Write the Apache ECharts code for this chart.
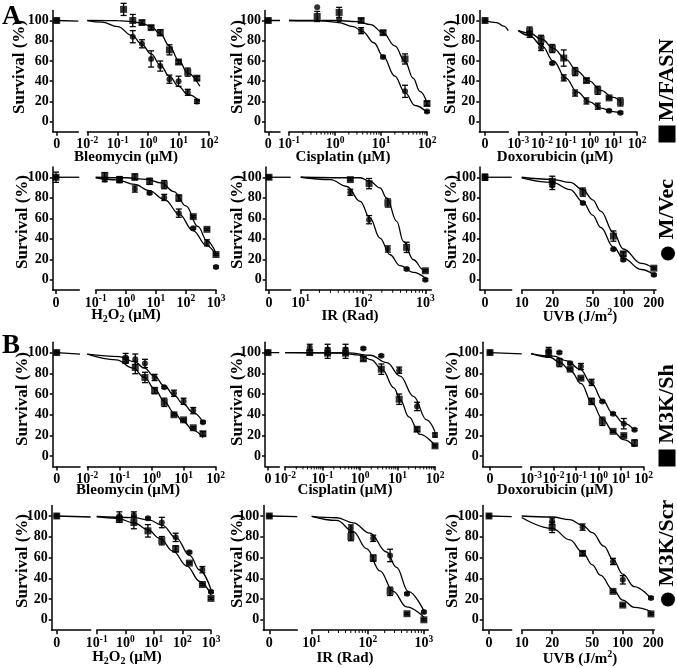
<!DOCTYPE html>
<html><head><meta charset="utf-8">
<script src="https://cdn.jsdelivr.net/npm/echarts@6/dist/echarts.min.js"></script>
<style>html,body{margin:0;padding:0;background:#fff}#c{width:677px;height:668px}</style>
</head><body><div id="c"></div>
<script>
// ================= DATA =================
const yTicks = [0, 20, 40, 60, 80, 100];
const ticksBleo = [0.01, 0.1, 1, 10, 100];
const ticksCisA = [0.1, 1, 10, 100];
const ticksCisB = [0.01, 0.1, 1, 10, 100];
const ticksDox = [0.001, 0.01, 0.1, 1, 10, 100];
const ticksH2O2 = [0.1, 1, 10, 100, 1000];
const ticksIR = [10, 100, 1000];
const ticksUVB = [10, 20, 50, 100, 200];
const zeroSurvival = [100, 100]; // [square, circle] at dose 0

// ---- A: M/FASN (square) vs M/Vec (circle) ----
const bleoDose = [0.156, 0.3125, 0.625, 1.25, 2.5, 5, 10, 20, 40];
const A1_sq = [111, 100, 98, 93, 88, 71, 59, 49, 43];
const A1_sqErr = [6, 6, 2, 2, 3, 5, 2, 4, 2];
const A1_ci = [null, 84, 77, 62, 55, 42, 40, 29, 20];
const A1_ciErr = [0, 6, 4, 8, 5, 4, 5, 3, 2];
const A1_sqFitX = [0.01, 0.1, 0.3, 0.6, 1.25, 2.5, 5, 10, 20, 50];
const A1_sqFitY = [100, 99.8, 99, 97.5, 94, 87, 75, 61, 48, 35];
const A1_ciFitX = [0.01, 0.03, 0.1, 0.3, 0.6, 1.25, 2.5, 5, 10, 20, 50];
const A1_ciFitY = [100, 98.5, 94, 85, 77, 67, 56, 45, 35, 27, 20];
const A1_zeroErr = [0, 0];
const A1_leftX = [0, 1];
const A1_leftY = [100, 99.3];

const A2_dose = [0.41, 1.23, 3.7, 11.1, 33.3, 100];
const A2_sq = [104, 108, 100, 88, 62, 18];
const A2_sqErr = [5, 5, 2, 2, 5, 2];
const A2_ci = [113, 101, 90, 64, 30, 10];
const A2_ciErr = [0, 0, 3, 1, 6, 1];
const A2_sqFitX = [0.1, 1, 3, 6, 11, 20, 33, 50, 70, 100];
const A2_sqFitY = [100, 100, 99, 96, 88, 75, 60, 43, 30, 19];
const A2_ciFitX = [0.1, 0.5, 1.2, 2.5, 4, 7, 11, 20, 33, 55, 100];
const A2_ciFitY = [100, 99.6, 98, 94, 89, 78, 65, 45, 29, 16, 9];
const A2_zeroErr = [0, 0];
const A2_leftX = [0, 1];
const A2_leftY = [100, 100];

const A3_dose = [0.003, 0.0091, 0.027, 0.082, 0.247, 0.74, 2.22, 6.67, 20];
const A3_sq = [89.6, 81.4, 72.3, 62.9, 49.5, 40.7, 31, 23.5, 19.5];
const A3_sqErr = [4, 4, 4, 8, 4, 2, 4, 1, 4];
const A3_ci = [86.3, 73.3, 57.7, 43.3, 28.3, 20.5, 15.3, 10.7, 8.8];
const A3_ciErr = [3, 3, 1, 3, 3, 3, 3, 1, 1];
const A3_sqFitX = [0.001, 0.003, 0.01, 0.03, 0.1, 0.3, 1, 3, 10, 22];
const A3_sqFitY = [90, 87.5, 81.5, 72.5, 61.5, 50, 40, 31, 24, 19];
const A3_ciFitX = [0.001, 0.003, 0.01, 0.03, 0.1, 0.3, 1, 3, 10, 22];
const A3_ciFitY = [90, 85, 75, 60, 43, 29.5, 19.5, 13.5, 10, 8];
const A3_zeroErr = [0, 0];
const A3_leftX = [0, 0.5, 0.8, 1];
const A3_leftY = [100, 98, 94.5, 90];

const h2o2Dose = [0.2, 0.62, 2, 6.2, 19, 58, 175, 500, 1000];
const A4_sq = [101.6, 97.7, 100.3, 96, 92.8, 79.7, 61.6, 49.2, 24.6];
const A4_sqErr = [3, 3, 3, 3, 4, 3, 1, 1, 1];
const A4_ci = [97.7, 97, 88.5, 84.6, 80.3, 65, 50.2, 36, 12.5];
const A4_ciErr = [2, 2, 3, 1, 3, 4, 1, 3, 1];
const A4_sqFitX = [0.1, 1, 5, 15, 40, 100, 250, 500, 1000];
const A4_sqFitY = [100, 99.5, 98, 94.5, 86, 72, 52, 38, 26];
const A4_ciFitX = [0.1, 0.5, 2, 6, 20, 60, 170, 500, 1000];
const A4_ciFitY = [99.5, 97.5, 93, 87, 78, 64, 48, 33, 24];
const A4_zeroErr = [5, 0];
const A4_leftX = [0, 1];
const A4_leftY = [100, 100];

const A5_dose = [62.5, 125, 250, 500, 1000];
const A5_sq = [97.7, 93.8, 74.9, 31.6, 8.8];
const A5_sqErr = [1, 5, 4, 5, 1];
const A5_ci = [85.3, 58.6, 30, 10.4, 0];
const A5_ciErr = [3, 4, 3, 1, 1];
const A5_sqFitX = [10, 90, 129, 187, 240, 347, 444, 642, 929, 1000];
const A5_sqFitY = [100, 99.5, 96, 89.6, 79.8, 57, 37.5, 19.5, 9.8, 8.5];
const A5_ciFitX = [10, 30, 55, 90, 129, 187, 271, 392, 642, 1000];
const A5_ciFitY = [100, 97.7, 91, 76.5, 60.3, 40.7, 24.4, 13.7, 7.2, 1.6];
const A5_zeroErr = [0, 0];
const A5_leftX = [0, 1];
const A5_leftY = [100, 100];

const A6_dose = [20, 40, 80, 100, 200];
const A6_sq = [96, 85.5, 42.6, 25.2, 11.3];
const A6_sqErr = [5, 4, 5, 2, 1];
const A6_ci = [92, 74.8, 29.7, 19.4, 4.8];
const A6_ciErr = [4, 1, 1, 1, 1];
const A6_sqFitX = [10, 20, 30, 40, 50, 60, 80, 100, 150, 200];
const A6_sqFitY = [100, 98, 95, 88, 78, 67, 46, 30, 16, 11];
const A6_ciFitX = [10, 20, 30, 40, 50, 60, 80, 100, 150, 200];
const A6_ciFitY = [99.5, 95, 88, 76, 63, 51, 32, 21, 10, 5];
const A6_zeroErr = [3, 0];
const A6_leftX = [0, 1];
const A6_leftY = [100, 100];

// ---- B: M3K/Sh (square) vs M3K/Scr (circle) ----
const B1_sq = [92.7, 85.6, 76, 63.3, 52, 40, 35.1, 27.5, 21.7];
const B1_sqErr = [3, 6, 5, 3, 4, 1, 1, 1, 2];
const B1_ci = [95.2, 93.6, 89.5, 76, 66.5, 60.7, 53, 44, 32.9];
const B1_ciErr = [4, 5, 4, 3, 1, 3, 3, 3, 1];
const B1_sqFitX = [0.01, 0.08, 0.27, 0.6, 1.25, 2.5, 5, 10, 20, 40];
const B1_sqFitY = [98.4, 93, 85, 76, 65, 53, 42, 33, 25, 18];
const B1_ciFitX = [0.01, 0.1, 0.3, 0.6, 1.25, 2.5, 5, 10, 20, 40];
const B1_ciFitY = [98.4, 96, 91, 85, 77, 68, 59, 50, 42, 33];
const B1_zeroErr = [0, 0];
const B1_leftX = [0, 1];
const B1_leftY = [100, 98.4];

const B2_dose = [0.0457, 0.137, 0.412, 1.23, 3.7, 11.1, 33.3, 100];
const B2_sq = [100, 99.4, 99.4, 94, 84, 55, 26, 10];
const B2_sqErr = [2, 5, 5, 2, 5, 5, 2, 1];
const B2_ci = [105, 103, 103, 104, 97, 83, 48, 20.5];
const B2_ciErr = [3, 5, 5, 1, 1, 3, 4, 2];
const B2_sqFitX = [0.01, 0.3, 1, 2, 4, 8, 12, 20, 40, 100];
const B2_sqFitY = [100, 99.6, 97.5, 93, 83, 66, 54, 38, 21, 10.5];
const B2_ciFitX = [0.01, 0.5, 1.9, 5.2, 11.8, 26.6, 60, 100];
const B2_ciFitY = [100, 99.7, 97.4, 90.3, 77.3, 57.8, 35, 23.7];
const B2_zeroErr = [0, 0];
const B2_leftX = [0, 1];
const B2_leftY = [100, 100];

const B3_dose = [0.0061, 0.0183, 0.0549, 0.165, 0.494, 1.48, 4.44, 13.3, 40];
const B3_sq = [99.4, 90.4, 84, 75.3, 52.9, 33.7, 24, 19.9, 12.8];
const B3_sqErr = [4, 4, 1, 1, 3, 4, 1, 1, 3];
const B3_ci = [101, 100, 89.7, 86.5, 71.2, 52.9, 41, 31.4, 25.6];
const B3_ciErr = [4, 1, 1, 3, 3, 1, 1, 5, 1];
const B3_sqFitX = [0.001, 0.007, 0.02, 0.06, 0.17, 0.5, 1.5, 4.4, 13, 40];
const B3_sqFitY = [99, 95.5, 90, 82, 70, 52, 36, 24, 16, 9];
const B3_ciFitX = [0.001, 0.01, 0.04, 0.15, 0.5, 1.5, 4.4, 13, 40];
const B3_ciFitY = [99, 96.5, 92, 84, 70, 54, 41, 32, 25];
const B3_zeroErr = [0, 0];
const B3_leftX = [0, 1];
const B3_leftY = [100, 98.7];

const B4_dose = [0.62, 2, 6.2, 19, 58, 175, 500, 1000];
const B4_sq = [96.8, 93.7, 85.7, 76.2, 68.3, 54.6, 34, 20.6];
const B4_sqErr = [3, 6, 6, 4, 3, 1, 1, 1];
const B4_ci = [100, 101, 97.8, 93.7, 79.4, 65.1, 48.3, 27];
const B4_ciErr = [4, 3, 1, 5, 4, 1, 3, 1];
const B4_sqFitX = [0.1, 0.5, 2, 6, 16, 48, 140, 410, 1000];
const B4_sqFitY = [99.3, 97.8, 93.5, 87, 78.5, 66, 52, 37, 24];
const B4_ciFitX = [0.1, 2, 7, 20, 60, 180, 400, 1000];
const B4_ciFitY = [99.5, 98.5, 96, 91, 79, 62, 48, 29];
const B4_zeroErr = [0, 0];
const B4_leftX = [0, 1];
const B4_leftY = [100, 99];

const B5_dose = [50, 125, 250, 500, 1000];
const B5_sq = [80.2, 59.4, 27.4, 5.9, 0];
const B5_sqErr = [4, 3, 4, 1, 1];
const B5_ci = [88.4, 78.5, 62, 25, 7.6];
const B5_ciErr = [3, 3, 6, 1, 1];
const B5_sqFitX = [10, 28, 55, 95, 165, 284, 491, 1000];
const B5_sqFitY = [99.7, 95.7, 85, 68.6, 47.2, 27.4, 12.5, 2.6];
const B5_ciFitX = [10, 28, 55, 109, 216, 326, 526, 1000];
const B5_ciFitY = [99.7, 98.3, 93.4, 83.5, 65.3, 50.5, 27.4, 8.6];
const B5_zeroErr = [0, 0];
const B5_leftX = [0, 1];
const B5_leftY = [100, 99.3];

const B6_dose = [20, 40, 80, 100, 190];
const B6_sq = [89, 64, 27.4, 14.2, 5.7];
const B6_sqErr = [5, 2, 1, 1, 1];
const B6_ci = [95, 89.3, 56.2, 38.5, 21.1];
const B6_ciErr = [3, 3, 3, 4, 1];
const B6_sqFitX = [10, 20, 30, 40, 50, 60, 80, 100, 130, 190];
const B6_sqFitY = [98.5, 88, 77, 65, 53, 43, 29, 19, 12, 8];
const B6_ciFitX = [10, 20, 30, 40, 50, 65, 80, 100, 130, 190];
const B6_ciFitY = [100, 99, 96.5, 91, 84, 71, 58, 44, 32, 20.5];
const B6_zeroErr = [0, 0];
const B6_leftX = [0, 1];
const B6_leftY = [100, 99.4];

// ================= LAYOUT =================
const Y_MIN = -10, Y_MAX = 110;
const rows = [
  {top: 10.4, h: 121.4, nameY: 157, survY: 67},
  {top: 167.0, h: 123.0, nameY: 316, survY: 222},
  {top: 342.2, h: 124.4, nameY: 490, survY: 399},
  {top: 505.6, h: 124.6, nameY: 658, survY: 561}
];
function D(dose, sq, sqE, ci, ciE, sqFX, sqFY, ciFX, ciFY, zE, lX, lY) {
  return {dose, sq, sqE, ci, ciE, sqFX, sqFY, ciFX, ciFY, zE, lX, lY};
}
const panels = [
  {row:0, survX:20, yx:52.7, zx:56.7, lEnd:78.3, rStart:87.3, rEnd:209, xMin:0.01, xMax:100, ticks:ticksBleo, pow:true, minor:false, name:'Bleomycin (μM)', nameX:126,
   d:D(bleoDose, A1_sq, A1_sqErr, A1_ci, A1_ciErr, A1_sqFitX, A1_sqFitY, A1_ciFitX, A1_ciFitY, A1_zeroErr, A1_leftX, A1_leftY)},
  {row:0, survX:238, yx:265, zx:268.3, lEnd:280, rStart:289, rEnd:427, xMin:0.1, xMax:100, ticks:ticksCisA, pow:true, minor:true, name:'Cisplatin (μM)', nameX:343,
   d:D(A2_dose, A2_sq, A2_sqErr, A2_ci, A2_ciErr, A2_sqFitX, A2_sqFitY, A2_ciFitX, A2_ciFitY, A2_zeroErr, A2_leftX, A2_leftY)},
  {row:0, survX:451, yx:479.3, zx:485, lEnd:508.3, rStart:518.3, rEnd:637, xMin:0.001, xMax:100, ticks:ticksDox, pow:true, minor:false, name:'Doxorubicin (μM)', nameX:555,
   d:D(A3_dose, A3_sq, A3_sqErr, A3_ci, A3_ciErr, A3_sqFitX, A3_sqFitY, A3_ciFitX, A3_ciFitY, A3_zeroErr, A3_leftX, A3_leftY)},
  {row:1, survX:23, yx:52.7, zx:56, lEnd:79.3, rStart:95.7, rEnd:216, xMin:0.1, xMax:1000, ticks:ticksH2O2, pow:true, minor:false, name:'H2O2', nameX:126,
   d:D(h2o2Dose, A4_sq, A4_sqErr, A4_ci, A4_ciErr, A4_sqFitX, A4_sqFitY, A4_ciFitX, A4_ciFitY, A4_zeroErr, A4_leftX, A4_leftY)},
  {row:1, survX:238, yx:265.7, zx:269, lEnd:290.7, rStart:300.7, rEnd:431.4, xMin:10, xMax:1250, ticks:ticksIR, pow:true, minor:true, name:'IR (Rad)', nameX:350,
   d:D(A5_dose, A5_sq, A5_sqErr, A5_ci, A5_ciErr, A5_sqFitX, A5_sqFitY, A5_ciFitX, A5_ciFitY, A5_zeroErr, A5_leftX, A5_leftY)},
  {row:1, survX:452, yx:480, zx:485, lEnd:511.7, rStart:521.7, rEnd:656, xMin:10, xMax:210, ticks:ticksUVB, pow:false, minor:false, name:'UVB', nameX:580,
   d:D(A6_dose, A6_sq, A6_sqErr, A6_ci, A6_ciErr, A6_sqFitX, A6_sqFitY, A6_ciFitX, A6_ciFitY, A6_zeroErr, A6_leftX, A6_leftY)},
  {row:2, survX:23, yx:52.7, zx:56.7, lEnd:80, rStart:87.3, rEnd:215.7, xMin:0.01, xMax:100, ticks:ticksBleo, pow:true, minor:false, name:'Bleomycin (μM)', nameX:128,
   d:D(bleoDose, B1_sq, B1_sqErr, B1_ci, B1_ciErr, B1_sqFitX, B1_sqFitY, B1_ciFitX, B1_ciFitY, B1_zeroErr, B1_leftX, B1_leftY)},
  {row:2, survX:238, yx:265, zx:268, lEnd:279.3, rStart:285, rEnd:435, xMin:0.01, xMax:100, ticks:ticksCisB, pow:true, minor:true, name:'Cisplatin (μM)', nameX:345,
   d:D(B2_dose, B2_sq, B2_sqErr, B2_ci, B2_ciErr, B2_sqFitX, B2_sqFitY, B2_ciFitX, B2_ciFitY, B2_zeroErr, B2_leftX, B2_leftY)},
  {row:2, survX:453, yx:482.7, zx:490, lEnd:521.7, rStart:531, rEnd:643.5, xMin:0.001, xMax:100, ticks:ticksDox, pow:true, minor:false, name:'Doxorubicin (μM)', nameX:555,
   d:D(B3_dose, B3_sq, B3_sqErr, B3_ci, B3_ciErr, B3_sqFitX, B3_sqFitY, B3_ciFitX, B3_ciFitY, B3_zeroErr, B3_leftX, B3_leftY)},
  {row:3, survX:22.5, yx:51.7, zx:56.7, lEnd:90.7, rStart:96.7, rEnd:211, xMin:0.1, xMax:1000, ticks:ticksH2O2, pow:true, minor:false, name:'H2O2', nameX:127,
   d:D(B4_dose, B4_sq, B4_sqErr, B4_ci, B4_ciErr, B4_sqFitX, B4_sqFitY, B4_ciFitX, B4_ciFitY, B4_zeroErr, B4_leftX, B4_leftY)},
  {row:3, survX:237.5, yx:263.3, zx:269.3, lEnd:297.3, rStart:311.7, rEnd:428.3, xMin:10, xMax:1200, ticks:ticksIR, pow:true, minor:true, name:'IR (Rad)', nameX:345,
   d:D(B5_dose, B5_sq, B5_sqErr, B5_ci, B5_ciErr, B5_sqFitX, B5_sqFitY, B5_ciFitX, B5_ciFitY, B5_zeroErr, B5_leftX, B5_leftY)},
  {row:3, survX:453, yx:482.7, zx:489, lEnd:511.7, rStart:521.7, rEnd:654.3, xMin:10, xMax:205, ticks:ticksUVB, pow:false, minor:false, name:'UVB', nameX:580,
   d:D(B6_dose, B6_sq, B6_sqErr, B6_ci, B6_ciErr, B6_sqFitX, B6_sqFitY, B6_ciFitX, B6_ciFitY, B6_zeroErr, B6_leftX, B6_leftY)}
];

// ================= BUILD =================
const FF = '"Liberation Serif", "Times New Roman", "DejaVu Serif", serif';
const BLACK = '#000';
const LOG = v => Math.log10(v);
const lineS = {color: BLACK, width: 1.5};
const labelS = {fontFamily: FF, fontWeight: 'bold', fontSize: 14, color: BLACK};
const richX = {
  b: {fontFamily: FF, fontWeight: 'bold', fontSize: 14, color: BLACK, lineHeight: 16, verticalAlign: 'bottom'},
  s: {fontFamily: FF, fontWeight: 'bold', fontSize: 9.5, color: BLACK, lineHeight: 8, verticalAlign: 'top'}
};
const powFmt = v => '{b|10}{s|' + Math.round(v) + '}';
const plainFmt = v => '{b|' + Math.round(Math.pow(10, v)) + '}';

function errRender(params, api) {
  const x = api.value(0), y = api.value(1), e = api.value(2);
  const t = api.coord([x, y + e]), b = api.coord([x, y - e]);
  const c = 3;
  const st = {stroke: BLACK, lineWidth: 1.3};
  return {type: 'group', children: [
    {type: 'line', shape: {x1: t[0], y1: t[1], x2: b[0], y2: b[1]}, style: st},
    {type: 'line', shape: {x1: t[0] - c, y1: t[1], x2: t[0] + c, y2: t[1]}, style: st},
    {type: 'line', shape: {x1: b[0] - c, y1: b[1], x2: b[0] + c, y2: b[1]}, style: st}
  ]};
}
// minor log ticks hanging under the x axis line (axis value at Y_MIN)
function minorTickRender(params, api) {
  const p = api.coord([api.value(0), Y_MIN]);
  return {type: 'line', shape: {x1: p[0], y1: p[1], x2: p[0], y2: p[1] + 2.8}, style: {stroke: BLACK, lineWidth: 1}};
}

const grids = [], xAxes = [], yAxes = [], series = [], graphics = [];

function addMarks(xi, yi, xs, ys, errs, symbol, size) {
  const pts = [], eb = [];
  xs.forEach((x, i) => {
    if (ys[i] == null) return;
    pts.push([x, ys[i]]);
    if (errs[i] > 0) eb.push([x, ys[i], errs[i]]);
  });
  series.push({type: 'custom', xAxisIndex: xi, yAxisIndex: yi, data: eb, renderItem: errRender, clip: false, silent: true, z: 3});
  series.push({type: 'scatter', xAxisIndex: xi, yAxisIndex: yi, data: pts, symbol: symbol, symbolSize: size,
    itemStyle: {color: BLACK}, clip: false, silent: true, z: 4});
}
function addLine(xi, yi, data) {
  series.push({type: 'line', xAxisIndex: xi, yAxisIndex: yi, data: data, smooth: 0.4, smoothMonotone: 'x',
    symbol: 'none', lineStyle: {color: BLACK, width: 1.3}, clip: false, silent: true, z: 2});
}

panels.forEach(p => {
  const r = rows[p.row], d = p.d;
  const gL = grids.length;
  grids.push({left: p.yx, top: r.top, width: p.lEnd - p.yx, height: r.h, containLabel: false, outerBoundsMode: 'none'});
  grids.push({left: p.rStart, top: r.top, width: p.rEnd - p.rStart, height: r.h, containLabel: false, outerBoundsMode: 'none'});
  const gR = gL + 1;
  const off = p.zx - p.yx, w = p.lEnd - p.yx;
  const lmin = -off / (w - off);

  const xL = xAxes.length;
  xAxes.push({type: 'value', gridIndex: gL, position: 'bottom', min: lmin, max: 1,
    axisLine: {show: true, onZero: false, lineStyle: lineS},
    axisTick: {show: true, customValues: [0], length: 4, lineStyle: lineS},
    axisLabel: Object.assign({customValues: [0], formatter: () => '0', margin: 6}, labelS),
    splitLine: {show: false}});
  const xR = xAxes.length;
  const tv = p.ticks.map(LOG);
  xAxes.push({type: 'value', gridIndex: gR, position: 'bottom', min: LOG(p.xMin), max: LOG(p.xMax),
    axisLine: {show: true, onZero: false, lineStyle: lineS},
    axisTick: {show: true, customValues: tv, length: 4, lineStyle: lineS},
    axisLabel: {customValues: tv, formatter: p.pow ? powFmt : plainFmt, margin: 4, rich: richX},
    splitLine: {show: false}});
  const yL = yAxes.length;
  yAxes.push({type: 'value', gridIndex: gL, min: Y_MIN, max: Y_MAX,
    axisLine: {show: true, onZero: false, lineStyle: lineS},
    axisTick: {show: true, customValues: yTicks, length: 3, lineStyle: lineS},
    axisLabel: Object.assign({customValues: yTicks, margin: 4}, labelS),
    splitLine: {show: false}});
  const yR = yAxes.length;
  yAxes.push({type: 'value', gridIndex: gR, min: Y_MIN, max: Y_MAX, show: false});

  if (p.minor) {
    const mv = [];
    for (let n = Math.floor(LOG(p.xMin)); n <= Math.ceil(LOG(p.xMax)); n++) {
      for (let k = 2; k <= 9; k++) {
        const v = LOG(k * Math.pow(10, n));
        if (v > LOG(p.xMin) && v < LOG(p.xMax)) mv.push([v]);
      }
    }
    series.push({type: 'custom', xAxisIndex: xR, yAxisIndex: yR, data: mv, renderItem: minorTickRender,
      encode: {x: 0}, clip: false, silent: true, z: 1});
  }

  // left (dose 0) segment
  addLine(xL, yL, d.lX.map((x, i) => [x, d.lY[i]]));
  addMarks(xL, yL, [0], [zeroSurvival[1]], [d.zE[1]], 'circle', 6);
  addMarks(xL, yL, [0], [zeroSurvival[0]], [d.zE[0]], 'rect', 7);

  // log segment
  addLine(xR, yR, d.sqFX.map((x, i) => [LOG(x), d.sqFY[i]]));
  addLine(xR, yR, d.ciFX.map((x, i) => [LOG(x), d.ciFY[i]]));
  const lx = d.dose.map(LOG);
  addMarks(xR, yR, lx, d.ci, d.ciE, 'circle', 6);
  addMarks(xR, yR, lx, d.sq, d.sqE, 'rect', 7);

  // y axis title
  graphics.push({type: 'text', x: p.survX, y: r.survY, rotation: Math.PI / 2, style: {
    text: 'Survival (%)', font: 'bold 17px ' + FF, fill: BLACK, align: 'center', verticalAlign: 'middle'}});

  // x axis title
  let nm;
  if (p.name === 'H2O2') {
    nm = {type: 'text', x: p.nameX, y: r.nameY, style: {
      text: '{b|H}{s|2}{b|O}{s|2}{b| (μM)}', align: 'center', verticalAlign: 'middle',
      rich: {
        b: {fontFamily: FF, fontWeight: 'bold', fontSize: 15, fill: BLACK, lineHeight: 17, verticalAlign: 'top'},
        s: {fontFamily: FF, fontWeight: 'bold', fontSize: 10, fill: BLACK, lineHeight: 9, verticalAlign: 'bottom'}
      }}};
  } else if (p.name === 'UVB') {
    nm = {type: 'text', x: p.nameX, y: r.nameY, style: {
      text: '{b|UVB (J/m}{s|2}{b|)}', align: 'center', verticalAlign: 'middle',
      rich: {
        b: {fontFamily: FF, fontWeight: 'bold', fontSize: 15, fill: BLACK, lineHeight: 17, verticalAlign: 'bottom'},
        s: {fontFamily: FF, fontWeight: 'bold', fontSize: 10, fill: BLACK, lineHeight: 9, verticalAlign: 'top'}
      }}};
  } else {
    nm = {type: 'text', x: p.nameX, y: r.nameY, style: {
      text: p.name, align: 'center', verticalAlign: 'middle',
      font: 'bold 15px ' + FF, fill: BLACK}};
  }
  graphics.push(nm);
});

// panel letters
graphics.push({type: 'text', x: 2, y: 17, style: {text: 'A', font: 'bold 27px ' + FF, fill: BLACK, align: 'left', verticalAlign: 'middle'}});
graphics.push({type: 'text', x: 2, y: 346, style: {text: 'B', font: 'bold 27px ' + FF, fill: BLACK, align: 'left', verticalAlign: 'middle'}});

// rotated legend: marker shape + label
const legendItems = [
  {t: 'M/FASN', ty: 80, mark: 'rect', my: 134},
  {t: 'M/Vec', ty: 209, mark: 'circle', my: 253.5},
  {t: 'M3K/Sh', ty: 404, mark: 'rect', my: 458},
  {t: 'M3K/Scr', ty: 543, mark: 'circle', my: 599.5}
];
legendItems.forEach(l => {
  graphics.push({type: 'text', x: 667.5, y: l.ty, rotation: Math.PI / 2, style: {
    text: l.t, font: 'bold 22px ' + FF, fill: BLACK, align: 'center', verticalAlign: 'middle'}});
  if (l.mark === 'rect') {
    graphics.push({type: 'rect', shape: {x: 667 - 8.5, y: l.my - 8.5, width: 17, height: 17}, style: {fill: BLACK}});
  } else {
    graphics.push({type: 'circle', shape: {cx: 668, cy: l.my, r: 7}, style: {fill: BLACK}});
  }
});

const chart = echarts.init(document.getElementById('c'), null, {renderer: 'canvas', width: 677, height: 668});
chart.setOption({
  animation: false,
  backgroundColor: '#fff',
  grid: grids,
  xAxis: xAxes,
  yAxis: yAxes,
  series: series,
  graphic: graphics
});
</script>
</body></html>
